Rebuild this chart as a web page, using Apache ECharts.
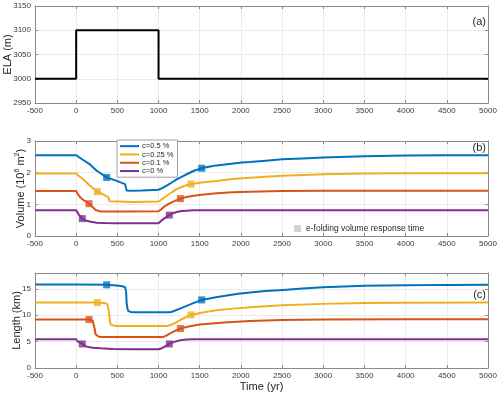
<!DOCTYPE html>
<html><head><meta charset="utf-8">
<script src="https://cdn.jsdelivr.net/npm/echarts@6/dist/echarts.min.js"></script>
<style>html,body{margin:0;padding:0;background:#fff}#c{width:500px;height:398px}</style>
</head><body><div id="c"></div>
<script>
// ---------- data ----------
const seriesNames = ['c=0.5 %', 'c=0.25 %', 'c=0.1 %', 'c=0 %'];
const seriesColors = ['#0072BD', '#EDB120', '#D95319', '#7E2F8E'];

const elaTime  = [-500, 0, 0, 1000, 1000, 5000];
const elaValue = [3000, 3000, 3100, 3100, 3000, 3000];

// Volume (10^6 m^2)
const volTime05 = [-500,0,40,85,168,249,370,492,593,613,650,800,1000,1050,1099,1160,1220,1280,1342,1430,1524,1610,1706,1808,1908,2010,2110,2300,2500,2750,3000,3500,4000,4500,5000];
const volVal05  = [2.55,2.55,2.48,2.40,2.26,2.06,1.85,1.74,1.64,1.44,1.43,1.44,1.46,1.52,1.59,1.69,1.79,1.87,1.95,2.06,2.14,2.19,2.23,2.26,2.29,2.32,2.34,2.38,2.42,2.45,2.48,2.52,2.54,2.55,2.55];
const volTime025 = [-500,0,40,85,168,257,330,390,405,420,700,1000,1050,1099,1160,1220,1300,1394,1550,1706,1900,2110,2500,3000,3500,4000,5000];
const volVal025  = [1.97,1.97,1.88,1.79,1.59,1.40,1.31,1.23,1.10,1.07,1.07,1.09,1.18,1.27,1.38,1.48,1.57,1.64,1.70,1.74,1.80,1.84,1.90,1.95,1.97,1.98,1.98];
const volTime01 = [-500,0,20,43,75,109,156,210,235,250,300,600,1000,1030,1060,1100,1140,1200,1265,1340,1425,1550,1706,1900,2110,2500,3000,4000,5000];
const volVal01  = [1.42,1.42,1.32,1.24,1.16,1.10,1.02,0.89,0.82,0.79,0.77,0.77,0.78,0.84,0.91,0.98,1.04,1.11,1.18,1.23,1.27,1.31,1.35,1.38,1.40,1.42,1.43,1.43,1.43];
const volTime0 = [-500,0,8,25,43,74,100,126,180,249,350,492,1000,1020,1040,1085,1131,1175,1220,1280,1342,1420,1500,2000,5000];
const volVal0  = [0.81,0.81,0.76,0.70,0.65,0.55,0.51,0.48,0.45,0.42,0.41,0.40,0.40,0.45,0.50,0.58,0.66,0.72,0.76,0.79,0.80,0.81,0.81,0.81,0.81];

// Length (km)
const lenTime05 = [-500,0,370,492,560,593,605,613,623,633,660,694,900,1140,1180,1260,1342,1430,1524,1680,1828,1970,2110,2300,2515,2750,3000,3500,4000,4500,5000];
const lenVal05  = [15.8,15.8,15.76,15.63,15.5,15.3,14.6,12.3,11.2,10.8,10.62,10.57,10.57,10.57,10.76,11.25,11.77,12.35,12.9,13.35,13.73,14.05,14.3,14.58,14.8,15.05,15.3,15.57,15.7,15.75,15.76];
const lenTime025 = [-500,0,257,350,380,390,400,410,420,435,470,700,1099,1140,1180,1230,1281,1340,1394,1550,1706,1900,2110,2500,3000,3500,4000,5000];
const lenVal025  = [12.4,12.4,12.4,12.28,12.1,11.9,10.4,8.8,8.25,8.05,7.98,7.97,7.97,8.1,8.35,8.8,9.24,9.68,10.06,10.55,10.95,11.25,11.52,11.9,12.15,12.3,12.34,12.4];
const lenTime01 = [-500,0,156,200,215,225,235,249,270,300,700,1060,1100,1140,1200,1265,1380,1504,1800,2110,2500,3000,4000,5000];
const lenVal01  = [9.18,9.18,9.18,9.0,8.7,7.4,6.4,6.08,5.95,5.89,5.89,5.89,6.2,6.58,7.05,7.47,7.9,8.23,8.62,8.92,9.08,9.18,9.22,9.24];
const lenTime0 = [-500,0,20,45,74,100,126,200,290,450,694,1000,1030,1060,1095,1131,1190,1263,1340,1425,2000,5000];
const lenVal0  = [5.44,5.44,5.0,4.8,4.56,4.28,4.05,3.85,3.73,3.62,3.54,3.54,3.7,3.92,4.25,4.56,4.95,5.25,5.38,5.44,5.44,5.44];

// e-folding response-time markers [time, value] per series
const volMarkTime = [[370,1524],[257,1394],[156,1265],[74,1131]];
const volMarkVal  = [[1.85,2.14],[1.40,1.64],[1.02,1.18],[0.55,0.66]];
const lenMarkTime = [[370,1524],[257,1394],[156,1265],[74,1131]];
const lenMarkVal  = [[15.76,12.9],[12.4,10.06],[9.18,7.47],[4.56,4.56]];

const xTicks = {min: -500, max: 5000, interval: 500};
const panelLabels = ['(a)', '(b)', '(c)'];
const markerLegendName = 'e-folding volume response time';

// ---------- build ----------
const zip = (t, v) => t.map((x, i) => [x, v[i]]);
const volT = [volTime05, volTime025, volTime01, volTime0];
const volV = [volVal05, volVal025, volVal01, volVal0];
const lenT = [lenTime05, lenTime025, lenTime01, lenTime0];
const lenV = [lenVal05, lenVal025, lenVal01, lenVal0];

const FONT = 'Liberation Sans, Arial, sans-serif';
const axisCol = '#8a8a8a';
const labCol = '#3a3a3a';
const gridCol = '#ebebeb';
const plain = v => String(v);

const grids = [
  {left: 35, right: 12, top: 6, height: 97, containLabel: false, outerBoundsMode: 'none'},
  {left: 35, right: 12, top: 141, height: 95, containLabel: false, outerBoundsMode: 'none'},
  {left: 35, right: 12, top: 273, height: 95, containLabel: false, outerBoundsMode: 'none'}
];

const xAxes = [], yAxes = [];
grids.forEach((g, i) => {
  xAxes.push({
    type: 'value', gridIndex: i, position: 'bottom', min: xTicks.min, max: xTicks.max, interval: xTicks.interval,
    axisLine: {onZero: false, lineStyle: {color: axisCol, width: 1}},
    axisTick: {inside: true, length: 3, lineStyle: {color: axisCol}},
    axisLabel: {fontSize: 8, color: labCol, margin: 4, fontFamily: FONT, formatter: plain},
    splitLine: {show: true, lineStyle: {color: gridCol}},
    name: i === 2 ? 'Time (yr)' : '', nameLocation: 'middle', nameGap: 13, nameMoveOverlap: false,
    nameTextStyle: {fontSize: 11, color: '#262626', fontFamily: FONT, verticalAlign: 'top'}
  });
  xAxes.push({
    type: 'value', gridIndex: i, position: 'top', min: xTicks.min, max: xTicks.max, interval: xTicks.interval,
    axisLine: {onZero: false, lineStyle: {color: axisCol}},
    axisTick: {inside: true, length: 3, lineStyle: {color: axisCol}},
    axisLabel: {show: false}, splitLine: {show: false}
  });
});

const yCfg = [
  {min: 2950, max: 3150, interval: 50, name: 'ELA (m)', gap: 22},
  {min: 0, max: 3, interval: 1, name: 'Volume (10{sup|6} m{sup|2})', gap: 8},
  {min: 0, max: 18, interval: 5, name: 'Length (km)', gap: 13}
];
yCfg.forEach((c, i) => {
  yAxes.push({
    type: 'value', gridIndex: i, position: 'left', min: c.min, max: c.max, interval: c.interval,
    axisLine: {show: true, onZero: false, lineStyle: {color: axisCol}},
    axisTick: {show: true, inside: true, length: 3, lineStyle: {color: axisCol}},
    axisLabel: {fontSize: 8, color: labCol, margin: 4, fontFamily: FONT, showMaxLabel: i !== 2, formatter: plain},
    splitLine: {show: true, lineStyle: {color: gridCol}},
    name: c.name, nameLocation: 'middle', nameGap: c.gap, nameMoveOverlap: false,
    nameTextStyle: {fontSize: 11, color: '#262626', fontFamily: FONT,
      rich: {sup: {fontSize: 7, padding: [0, 0, 6, 0], color: '#262626', fontFamily: FONT}}}
  });
  yAxes.push({
    type: 'value', gridIndex: i, position: 'right', min: c.min, max: c.max, interval: c.interval,
    axisLine: {show: true, onZero: false, lineStyle: {color: axisCol}},
    axisTick: {show: true, inside: true, length: 3, lineStyle: {color: axisCol}},
    axisLabel: {show: false}, splitLine: {show: false}
  });
});

const series = [];
series.push({
  type: 'line', xAxisIndex: 0, yAxisIndex: 0, data: zip(elaTime, elaValue),
  showSymbol: false, lineStyle: {color: '#000', width: 2}, itemStyle: {color: '#000'}, silent: true
});
seriesNames.forEach((n, k) => {
  series.push({
    name: n, type: 'line', xAxisIndex: 2, yAxisIndex: 2, data: zip(volT[k], volV[k]),
    showSymbol: false, smooth: false,
    lineStyle: {color: seriesColors[k], width: 2}, itemStyle: {color: seriesColors[k]}
  });
  series.push({
    name: n, type: 'line', xAxisIndex: 4, yAxisIndex: 4, data: zip(lenT[k], lenV[k]),
    showSymbol: false, smooth: false,
    lineStyle: {color: seriesColors[k], width: 2}, itemStyle: {color: seriesColors[k]}
  });
  series.push({
    type: 'scatter', xAxisIndex: 2, yAxisIndex: 2, data: zip(volMarkTime[k], volMarkVal[k]),
    symbol: 'rect', symbolSize: 7, itemStyle: {color: seriesColors[k]}, z: 5
  });
  series.push({
    type: 'scatter', xAxisIndex: 4, yAxisIndex: 4, data: zip(lenMarkTime[k], lenMarkVal[k]),
    symbol: 'rect', symbolSize: 7, itemStyle: {color: seriesColors[k]}, z: 5
  });
});
series.push({name: markerLegendName, type: 'scatter', xAxisIndex: 2, yAxisIndex: 2, data: [],
  symbol: 'rect', itemStyle: {color: '#c8c8c8'}});

const option = {
  animation: false,
  backgroundColor: '#fff',
  grid: grids,
  xAxis: xAxes,
  yAxis: yAxes,
  series: series,
  legend: [
    {
      data: seriesNames, orient: 'vertical', left: 117, top: 140,
      icon: 'rect', itemWidth: 19, itemHeight: 2, itemGap: 0,
      padding: [2, 4, 2, 3], borderColor: '#a0a0a0', borderWidth: 1, backgroundColor: '#fff',
      textStyle: {fontSize: 7.5, lineHeight: 8.3, height: 8.3, color: '#262626', fontFamily: FONT, padding: [0,0,0,-2]},
      selectedMode: false
    },
    {
      data: [markerLegendName], left: 289, top: 219, icon: 'rect', itemWidth: 7, itemHeight: 7,
      textStyle: {fontSize: 8.5, color: '#262626', fontFamily: FONT}, selectedMode: false
    }
  ],
  graphic: panelLabels.map((t, i) => ({
    type: 'text', right: 14, top: [16, 142, 289][i],
    style: {text: t, fontSize: 11, fill: '#262626', fontFamily: FONT}
  }))
};
const chart = echarts.init(document.getElementById('c'), null, {renderer: 'canvas'});
chart.setOption(option);
</script></body></html>
